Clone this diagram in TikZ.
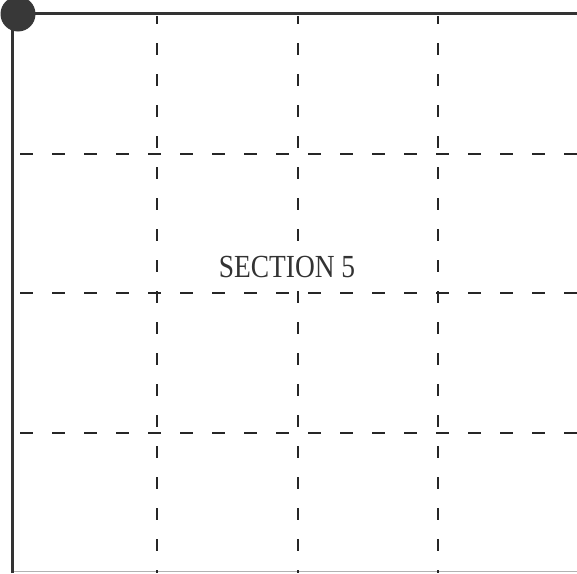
\documentclass[tikz,border=0pt]{standalone}
\usepackage{fontspec}
\setmainfont{Liberation Serif}
\usetikzlibrary{positioning}

\begin{document}
\begin{tikzpicture}[x=1pt, y=-1pt, font=\fontsize{28}{28}\selectfont,
        frame/.style={line width=3pt, black!80},
        gridline/.style={line width=1.8pt, black!85, dash pattern=on 13pt off 19pt}]
        \useasboundingbox (0,0) rectangle (577,573);

        % Frame
        \draw[line width=0.8pt, black!30] (13,571.5) -- (577,571.5);
        \draw[frame] (12.7,573) -- (12.7,13) -- (577,13);
        \node[circle, fill=black!78, minimum size=35pt, inner sep=0pt] (corner) at (18,14) {};

        % Vertical grid lines
        \draw[gridline, dash pattern=on 12pt off 19pt, dash phase=4pt] (157,16) -- (157,573);
        \draw[gridline, dash pattern=on 12pt off 19pt, dash phase=4pt] (298,16) -- (298,573);
        \draw[gridline, dash pattern=on 12pt off 19pt, dash phase=4pt] (438,16) -- (438,573);

        % Horizontal grid lines
        \draw[gridline] (20,154) -- (577,154);
        \draw[gridline] (20,293) -- (577,293);
        \draw[gridline] (20,433) -- (577,433);

        % Label
        \node[text=black!80] (section) at (287,267) {\scalebox{0.98}[1.15]{SECTION 5}};
\end{tikzpicture}
\end{document}
